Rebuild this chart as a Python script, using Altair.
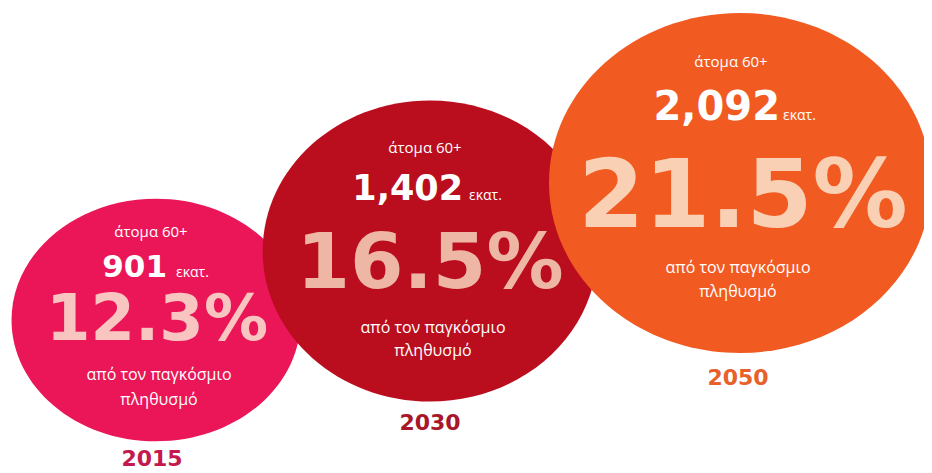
import altair as alt
import pandas as pd

# ---- data ----
years = [2015, 2030, 2050]
people_millions = [901, 1402, 2092]      # άτομα 60+ (εκατ.)
share_pct = [12.3, 16.5, 21.5]           # % του παγκόσμιου πληθυσμού

label_top = "άτομα 60+"
label_unit = "εκατ."
label_line1 = "από τον παγκόσμιο"
label_line2 = "πληθυσμό"

df = pd.DataFrame({"year": years, "people": people_millions, "share": share_pct})

# ---- styles ----
fills = ["#EA1657", "#BA0D1E", "#F15A21"]
pct_colors = ["#F9C5C0", "#EEB6A5", "#FAD0B5"]
year_colors = ["#C4184F", "#A8182A", "#E8602A"]
BOLD = "DejaVu Sans"
REG = "Open Sans"


def ellipse(aspect):
    return f"M -1 0 A 1 {aspect} 0 1 1 1 0 A 1 {aspect} 0 1 1 -1 0 Z"


def pos(xr, yr):
    return dict(
        x=alt.X("year:Q", scale=alt.Scale(domain=years, range=xr, nice=False, zero=False), axis=None),
        y=alt.Y("year:Q", scale=alt.Scale(domain=years, range=yr, nice=False, zero=False), axis=None),
    )


base = alt.Chart(df)

circles = base.mark_point(filled=True, opacity=1, strokeWidth=0).encode(
    **pos([148, 422, 732], [312, 243, 175]),
    size=alt.Size("share:Q", scale=alt.Scale(domain=[0, 21.5], range=[0, 145924]), legend=None),
    shape=alt.Shape("year:N", scale=alt.Scale(domain=years, range=[ellipse(0.84), ellipse(0.90), ellipse(0.89)]), legend=None),
    color=alt.Color("year:N", scale=alt.Scale(domain=years, range=fills), legend=None),
    order=alt.Order("year:Q"),
)

top = base.mark_text(font=REG, fontSize=15, color="white", baseline="middle", align="center").encode(
    **pos([143, 417, 723], [224, 140, 54]),
    text=alt.value(label_top),
)

number = base.mark_text(font=BOLD, fontWeight="bold", color="white", baseline="alphabetic", align="right").encode(
    **pos([159, 455, 772], [269, 192, 112]),
    text=alt.Text("people:Q", format=","),
    size=alt.Size("year:Q", scale=alt.Scale(domain=years, range=[31, 35, 40]), legend=None),
)

unit = base.mark_text(font=REG, fontSize=14, color="white", baseline="alphabetic", align="left").encode(
    **pos([168, 461, 775], [269, 192, 112]),
    text=alt.value(label_unit),
)

pct = base.transform_calculate(pct="format(datum.share, '.1f') + '%'").mark_text(
    font=BOLD, fontWeight="bold", baseline="alphabetic", align="center"
).encode(
    **pos([149, 422, 735], [332, 280, 219]),
    text="pct:N",
    size=alt.Size("year:Q", scale=alt.Scale(domain=years, range=[64, 77, 95]), legend=None),
    color=alt.Color("year:N", scale=alt.Scale(domain=years, range=pct_colors), legend=None),
)

line1 = base.mark_text(font=REG, fontSize=16, color="white", baseline="middle", align="center").encode(
    **pos([151, 425, 730], [367, 320, 260]),
    text=alt.value(label_line1),
)

line2 = base.mark_text(font=REG, fontSize=16, color="white", baseline="middle", align="center").encode(
    **pos([151, 425, 730], [392, 343, 284]),
    text=alt.value(label_line2),
)

year_lbl = base.mark_text(font=BOLD, fontWeight="bold", fontSize=22, baseline="middle", align="center").encode(
    **pos([144, 422, 730], [451, 415, 370]),
    text=alt.Text("year:Q", format="d"),
    color=alt.Color("year:N", scale=alt.Scale(domain=years, range=year_colors), legend=None),
)

chart = (
    alt.layer(circles, top, number, unit, pct, line1, line2, year_lbl)
    .resolve_scale(x="independent", y="independent", size="independent", color="independent", shape="independent")
    .properties(width=916, height=465, padding=0, autosize=alt.AutoSizeParams(type="none"), background="white")
    .configure_view(strokeWidth=0)
)

chart.save("out.html", embed_options={"renderer": "svg", "actions": False})
